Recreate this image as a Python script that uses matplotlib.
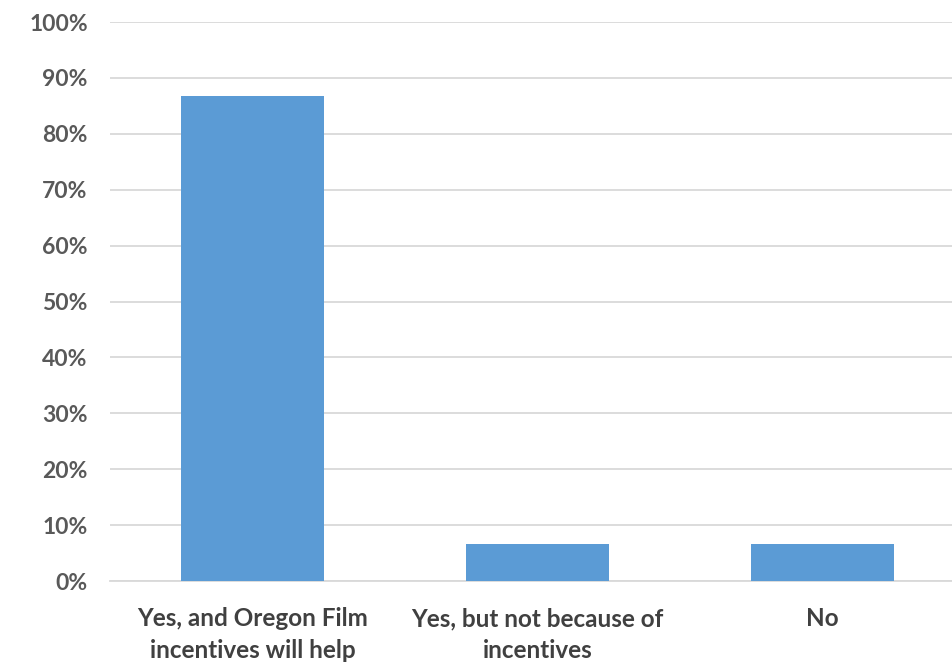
import matplotlib.pyplot as plt
from matplotlib.ticker import PercentFormatter

categories = ["Yes, and Oregon Film\nincentives will help",
              "Yes, but not because of\nincentives",
              "No"]
shares = [0.867, 0.067, 0.067]
y_ticks = [0, 0.1, 0.2, 0.3, 0.4, 0.5, 0.6, 0.7, 0.8, 0.9, 1.0]

plt.rcParams['font.family'] = ['Lato', 'DejaVu Sans']

fig = plt.figure(figsize=(9.52, 6.65), dpi=100)
ax = fig.add_axes([0.1155, 0.1263, 0.898, 0.8406])

x = range(len(categories))
ax.bar(x, shares, width=0.5, color='#5B9BD5', zorder=3)

ax.set_xlim(-0.5, 2.5)
ax.set_ylim(0, 1.0)
ax.set_yticks(y_ticks)
ax.yaxis.set_major_formatter(PercentFormatter(1.0, decimals=0))
ax.set_xticks(list(x))
ax.set_xticklabels(categories, linespacing=1.45)

ax.grid(axis='y', color='#d9d9d9', linewidth=1.3, zorder=0)
for side in ['top', 'right', 'left']:
    ax.spines[side].set_visible(False)
ax.spines['bottom'].set_color('#d9d9d9')
ax.spines['bottom'].set_linewidth(1.3)

ax.tick_params(axis='y', length=0, pad=16, labelsize=16.5, labelcolor='#595959')
ax.tick_params(axis='x', length=0, pad=19, labelsize=17.5, labelcolor='#404040')
for lbl in ax.get_yticklabels() + ax.get_xticklabels():
    lbl.set_fontweight('bold')

fig.savefig('out.png', dpi=100)
